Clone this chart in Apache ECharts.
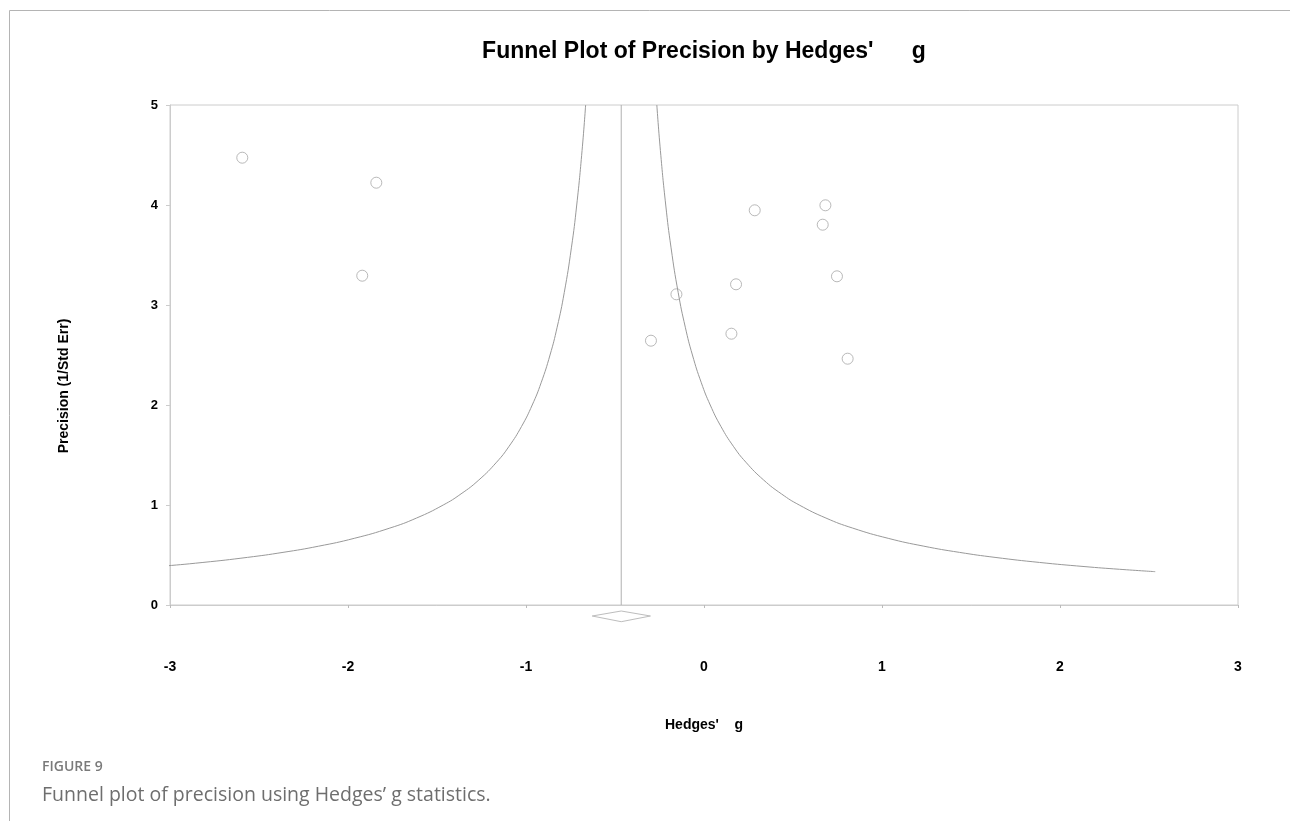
<!DOCTYPE html>
<html>
<head>
<meta charset="utf-8">
<title>Funnel Plot of Precision by Hedges' g</title>
<script src="https://cdn.jsdelivr.net/npm/echarts@6/dist/echarts.min.js"></script>
<style>
  html, body { margin: 0; padding: 0; background: #fff; }
  #chart { width: 1290px; height: 821px; }
</style>
</head>
<body>
<div id="chart"></div>
<script>
// Study effect sizes (Hedges' g) and their precision (1 / standard error)
const hedgesG  = [-2.594, -1.841, -1.920, 0.285, 0.682, 0.667, 0.747, 0.180, -0.155, 0.154, -0.298, 0.807];
const precision = [4.473, 4.223, 3.293, 3.947, 3.997, 3.803, 3.287, 3.207, 3.107, 2.713, 2.643, 2.463];

// Pooled estimate and its confidence limits (summary diamond)
const pooledG = -0.465;
const pooledLower = -0.628;
const pooledUpper = -0.301;

// Standard errors at which the funnel limits are traced (pooled ± SE)
const funnelSE = [0.2, 0.22, 0.25, 0.28, 0.32, 0.36, 0.4, 0.45, 0.5, 0.56, 0.63, 0.7, 0.8, 0.9, 1.0,
                  1.15, 1.3, 1.5, 1.7, 1.9, 2.1, 2.35, 2.6, 2.8, 3.0];

// Axis tick values
const xTicks = [-3, -2, -1, 0, 1, 2, 3];
const yTicks = [0, 1, 2, 3, 4, 5];

const studies = hedgesG.map((g, i) => [g, precision[i]]);
const leftLimit = funnelSE.map(se => [pooledG - se, 1 / se]);
const rightLimit = funnelSE.map(se => [pooledG + se, 1 / se]);
const diamond = [
  [pooledLower, -0.11], [pooledG, -0.06], [pooledUpper, -0.11], [pooledG, -0.167], [pooledLower, -0.11]
];

const chart = echarts.init(document.getElementById('chart'), null, { renderer: 'canvas' });
const axisFamily = 'Liberation Sans, Arial, sans-serif';

chart.setOption({
  backgroundColor: '#fff',
  animation: false,
  grid: {
    left: 170, top: 105, width: 1068, height: 500,
    show: true, borderColor: '#cccccc', borderWidth: 1,
    outerBoundsMode: 'none'
  },
  xAxis: {
    type: 'value',
    min: xTicks[0], max: xTicks[xTicks.length - 1], interval: 1,
    axisLine: { show: true, onZero: false, lineStyle: { color: '#cccccc' } },
    axisTick: { show: true, length: 3, lineStyle: { color: '#bbbbbb' } },
    splitLine: { show: false },
    axisLabel: { margin: 55, fontFamily: axisFamily, fontWeight: 'bold', fontSize: 14, color: '#000' }
  },
  yAxis: {
    type: 'value',
    min: yTicks[0], max: yTicks[yTicks.length - 1], interval: 1,
    axisLine: { show: true, onZero: false, lineStyle: { color: '#cccccc' } },
    axisTick: { show: true, length: 4, lineStyle: { color: '#cccccc' } },
    splitLine: { show: false },
    axisLabel: { margin: 12, fontFamily: axisFamily, fontWeight: 'bold', fontSize: 13, color: '#000' }
  },
  title: {
    text: "Funnel Plot of Precision by Hedges'      g",
    left: 699, top: 35, textAlign: 'center',
    textStyle: { fontFamily: axisFamily, fontWeight: 'bold', fontSize: 23, color: '#000' }
  },
  graphic: [
    { type: 'line', shape: { x1: 9.5, y1: 10.5, x2: 1290, y2: 10.5 }, style: { stroke: '#b4b4b4', lineWidth: 1 }, silent: true },
    { type: 'line', shape: { x1: 9.5, y1: 10.5, x2: 9.5, y2: 821 }, style: { stroke: '#b4b4b4', lineWidth: 1 }, silent: true },
    { type: 'text', x: 64, y: 386, rotation: Math.PI / 2,
      style: { text: 'Precision (1/Std Err)', x: 0, y: 0, align: 'center', verticalAlign: 'middle',
        font: 'bold 14px "Liberation Sans", Arial, sans-serif', fill: '#000' } },
    { type: 'text', x: 704, y: 725,
      style: { text: "Hedges'    g", align: 'center', verticalAlign: 'middle',
        font: 'bold 14px "Liberation Sans", Arial, sans-serif', fill: '#000' } },
    { type: 'text', x: 42, y: 767,
      style: { text: 'FIGURE 9', align: 'left', verticalAlign: 'middle',
        font: '600 14px "Open Sans", "Noto Sans", sans-serif', fill: '#7a7a7a' } },
    { type: 'text', x: 42, y: 795,
      style: { text: 'Funnel plot of precision using Hedges\u2019 g statistics.', align: 'left', verticalAlign: 'middle',
        font: '19.5px "Open Sans", "Noto Sans", sans-serif', fill: '#6e6e6e' } }
  ],
  series: [
    {
      name: 'Pooled estimate', type: 'line', data: [[pooledG, yTicks[0]], [pooledG, yTicks[yTicks.length - 1]]],
      symbol: 'none', lineStyle: { color: '#b0b0b0', width: 1 }, silent: true
    },
    {
      name: 'Lower limit', type: 'line', data: leftLimit, smooth: true, clip: true,
      symbol: 'none', lineStyle: { color: '#999999', width: 1 }, silent: true
    },
    {
      name: 'Upper limit', type: 'line', data: rightLimit, smooth: true, clip: true,
      symbol: 'none', lineStyle: { color: '#999999', width: 1 }, silent: true
    },
    {
      name: 'Summary', type: 'line', data: diamond, clip: false,
      symbol: 'none', lineStyle: { color: '#bdbdbd', width: 1 }, silent: true
    },
    {
      name: 'Studies', type: 'scatter', data: studies, symbol: 'circle', symbolSize: 11,
      itemStyle: { color: 'rgba(255,255,255,0)', borderColor: '#a8a8a8', borderWidth: 1 }
    }
  ]
});
</script>
</body>
</html>
